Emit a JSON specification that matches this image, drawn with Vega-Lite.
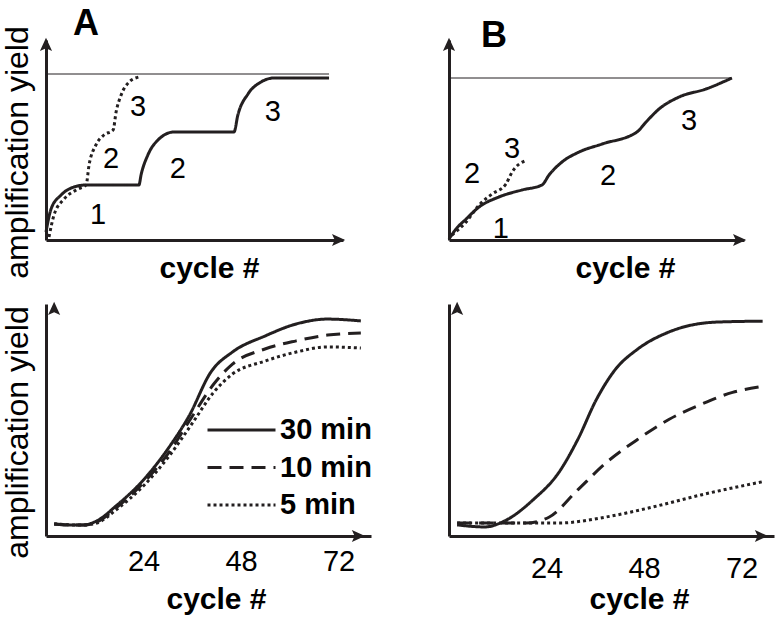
{
  "$schema": "https://vega.github.io/schema/vega-lite/v6.json",
  "background": "white",
  "padding": {"left": 0, "top": 5, "right": 5, "bottom": 5},
  "config": {
    "view": {"stroke": null},
    "font": "Liberation Sans",
    "axis": {"grid": false, "domainColor": "#231f20", "domainWidth": 3, "ticks": false, "tickSize": 0, "labels": false, "titleColor": "#000", "labelColor": "#000", "labelFontSize": 29, "labelFontWeight": "normal"},
    "title": {"color": "#000"}
  },
  "datasets": {
    "topA": [
      {"x": 0, "y": 4, "s": "solid"}, {"x": 1.7, "y": 15.5, "s": "solid"}, {"x": 5.1, "y": 22.5, "s": "solid"}, {"x": 9.4, "y": 26.5, "s": "solid"}, {"x": 13.5, "y": 27.5, "s": "solid"}, {"x": 31.3, "y": 27.5, "s": "solid"}, {"x": 32, "y": 32.5, "s": "solid"}, {"x": 34.3, "y": 42.5, "s": "solid"}, {"x": 37.7, "y": 50, "s": "solid"}, {"x": 43.1, "y": 54, "s": "solid"}, {"x": 63.3, "y": 54, "s": "solid"}, {"x": 64.6, "y": 62.5, "s": "solid"}, {"x": 68, "y": 73, "s": "solid"}, {"x": 72.4, "y": 79, "s": "solid"}, {"x": 76.8, "y": 81, "s": "solid"}, {"x": 95.3, "y": 81, "s": "solid"},
      {"x": 1, "y": 1.5, "s": "dotted"}, {"x": 2.7, "y": 12.5, "s": "dotted"}, {"x": 6.1, "y": 20.5, "s": "dotted"}, {"x": 10.8, "y": 25.5, "s": "dotted"}, {"x": 13.5, "y": 27.5, "s": "dotted"}, {"x": 14.5, "y": 37.5, "s": "dotted"}, {"x": 16.8, "y": 47.5, "s": "dotted"}, {"x": 19.5, "y": 52.5, "s": "dotted"}, {"x": 22.6, "y": 55, "s": "dotted"}, {"x": 23.6, "y": 64, "s": "dotted"}, {"x": 25.3, "y": 72.5, "s": "dotted"}, {"x": 28, "y": 79, "s": "dotted"}, {"x": 31.3, "y": 81.5, "s": "dotted"}
    ],
    "topB": [
      {"x": 0, "y": 0.5, "s": "solid"}, {"x": 2.4, "y": 5.5, "s": "solid"}, {"x": 5.8, "y": 10.5, "s": "solid"}, {"x": 10.2, "y": 16.5, "s": "solid"}, {"x": 16.9, "y": 21.5, "s": "solid"}, {"x": 24.7, "y": 25, "s": "solid"}, {"x": 31.5, "y": 27.5, "s": "solid"}, {"x": 33.9, "y": 32.5, "s": "solid"}, {"x": 38.3, "y": 39, "s": "solid"}, {"x": 44.1, "y": 44, "s": "solid"}, {"x": 51.9, "y": 48, "s": "solid"}, {"x": 63.7, "y": 54, "s": "solid"}, {"x": 66.8, "y": 59, "s": "solid"}, {"x": 71.2, "y": 65.5, "s": "solid"}, {"x": 78, "y": 71.5, "s": "solid"}, {"x": 87.1, "y": 75.5, "s": "solid"}, {"x": 95.9, "y": 81, "s": "solid"},
      {"x": 1, "y": 2.5, "s": "dotted"}, {"x": 5.8, "y": 9, "s": "dotted"}, {"x": 10.2, "y": 17.5, "s": "dotted"}, {"x": 14.6, "y": 23, "s": "dotted"}, {"x": 19.3, "y": 28, "s": "dotted"}, {"x": 21.4, "y": 34, "s": "dotted"}, {"x": 26.4, "y": 40, "s": "dotted"}
    ],
    "ceilA": [{"x": 0, "x2": 95.3, "y": 83}],
    "ceilB": [{"x": 0, "x2": 95.9, "y": 81}],
    "labA": [{"x": 17.5, "y": 12.5, "t": "1"}, {"x": 21.9, "y": 40.5, "t": "2"}, {"x": 31, "y": 66.5, "t": "3"}, {"x": 44.4, "y": 35.5, "t": "2"}, {"x": 76.4, "y": 64, "t": "3"}],
    "labB": [{"x": 17.6, "y": 5.5, "t": "1"}, {"x": 7.8, "y": 33, "t": "2"}, {"x": 21.4, "y": 45.5, "t": "3"}, {"x": 53.9, "y": 32, "t": "2"}, {"x": 81.4, "y": 59.5, "t": "3"}],
    "arrTop": [{"x": 100, "y": 0, "d": "right"}, {"x": 0, "y": 100, "d": "up"}],
    "arrBot": [{"x": 78, "y": 0, "d": "right"}, {"x": 2, "y": 100, "d": "up"}],
    "botA": [
      {"c": 2, "y": 5.2, "t": "30 min"}, {"c": 5.5, "y": 4.7, "t": "30 min"}, {"c": 9, "y": 4.7, "t": "30 min"}, {"c": 12.5, "y": 6.5, "t": "30 min"}, {"c": 17.2, "y": 12.9, "t": "30 min"}, {"c": 24.2, "y": 24.6, "t": "30 min"}, {"c": 30.5, "y": 38.8, "t": "30 min"}, {"c": 35.2, "y": 51.7, "t": "30 min"}, {"c": 40.6, "y": 70.7, "t": "30 min"}, {"c": 45.9, "y": 79.3, "t": "30 min"}, {"c": 53.9, "y": 86.2, "t": "30 min"}, {"c": 61.6, "y": 91.4, "t": "30 min"}, {"c": 69.3, "y": 93.5, "t": "30 min"}, {"c": 77.5, "y": 92.7, "t": "30 min"},
      {"c": 2, "y": 5.2, "t": "10 min"}, {"c": 9, "y": 4.7, "t": "10 min"}, {"c": 12.5, "y": 6, "t": "10 min"}, {"c": 17.2, "y": 12, "t": "10 min"}, {"c": 24.2, "y": 23.3, "t": "10 min"}, {"c": 30.5, "y": 36.6, "t": "10 min"}, {"c": 35.9, "y": 51.3, "t": "10 min"}, {"c": 41.3, "y": 65.5, "t": "10 min"}, {"c": 45.9, "y": 74.1, "t": "10 min"}, {"c": 53.9, "y": 80.6, "t": "10 min"}, {"c": 61.6, "y": 84.1, "t": "10 min"}, {"c": 69.3, "y": 86.6, "t": "10 min"}, {"c": 77.5, "y": 87.5, "t": "10 min"},
      {"c": 2, "y": 5.2, "t": "5 min"}, {"c": 9, "y": 4.7, "t": "5 min"}, {"c": 12.5, "y": 5.6, "t": "5 min"}, {"c": 17.2, "y": 11.2, "t": "5 min"}, {"c": 24.2, "y": 22, "t": "5 min"}, {"c": 30.5, "y": 34.9, "t": "5 min"}, {"c": 35.9, "y": 48.3, "t": "5 min"}, {"c": 41.3, "y": 62, "t": "5 min"}, {"c": 45.9, "y": 69.8, "t": "5 min"}, {"c": 53.9, "y": 75.4, "t": "5 min"}, {"c": 61.6, "y": 79.3, "t": "5 min"}, {"c": 69.3, "y": 81.5, "t": "5 min"}, {"c": 77.5, "y": 81, "t": "5 min"}
    ],
    "botB": [
      {"c": 2, "y": 4.8, "t": "30 min"}, {"c": 8.8, "y": 3.9, "t": "30 min"}, {"c": 13.7, "y": 6.5, "t": "30 min"}, {"c": 20.7, "y": 15.6, "t": "30 min"}, {"c": 27, "y": 27.3, "t": "30 min"}, {"c": 31.7, "y": 41.6, "t": "30 min"}, {"c": 36.3, "y": 58.9, "t": "30 min"}, {"c": 41, "y": 71.9, "t": "30 min"}, {"c": 46.4, "y": 80.5, "t": "30 min"}, {"c": 54.1, "y": 87.9, "t": "30 min"}, {"c": 65.8, "y": 92.2, "t": "30 min"}, {"c": 77.2, "y": 92.6, "t": "30 min"},
      {"c": 2, "y": 5.6, "t": "10 min"}, {"c": 19, "y": 5.6, "t": "10 min"}, {"c": 24.7, "y": 8.2, "t": "10 min"}, {"c": 31.7, "y": 19.9, "t": "10 min"}, {"c": 38.7, "y": 31.6, "t": "10 min"}, {"c": 46.4, "y": 41.6, "t": "10 min"}, {"c": 54.1, "y": 50.2, "t": "10 min"}, {"c": 62, "y": 56.7, "t": "10 min"}, {"c": 69.8, "y": 61.9, "t": "10 min"}, {"c": 77.2, "y": 64.5, "t": "10 min"},
      {"c": 2, "y": 5.6, "t": "5 min"}, {"c": 27, "y": 5.6, "t": "5 min"}, {"c": 38.7, "y": 8.2, "t": "5 min"}, {"c": 50.4, "y": 12.6, "t": "5 min"}, {"c": 62, "y": 17.7, "t": "5 min"}, {"c": 77.2, "y": 23.4, "t": "5 min"}
    ]
  },
  "concat": [
    {
      "width": 297, "height": 200,
      "title": {"text": "A", "anchor": "start", "frame": "group", "fontSize": 36, "fontWeight": "bold", "dx": 27, "offset": -53, "baseline": "bottom"},
      "layer": [
        {
          "data": {"name": "topA"},
          "mark": {"type": "line", "interpolate": "monotone", "color": "#231f20", "strokeWidth": 3},
          "encoding": {
            "x": {"field": "x", "type": "quantitative", "scale": {"domain": [0, 100]}, "axis": {"title": "cycle #", "titleFontSize": 30, "titleFontWeight": "bold", "titleX": 163, "titleY": 37, "titleBaseline": "alphabetic"}},
            "y": {"field": "y", "type": "quantitative", "scale": {"domain": [0, 100]}, "axis": {"title": "amplification yield", "titleFontSize": 32, "titleFontWeight": "normal", "titleX": -12, "titleY": 112, "titleBaseline": "bottom"}},
            "strokeDash": {"field": "s", "type": "nominal", "scale": {"domain": ["solid", "dotted"], "range": [[1, 0], [3, 3]]}, "legend": null}
          }
        },
        {
          "data": {"name": "ceilA"},
          "mark": {"type": "rule", "color": "#231f20", "strokeWidth": 1},
          "encoding": {"x": {"field": "x", "type": "quantitative"}, "x2": {"field": "x2"}, "y": {"field": "y", "type": "quantitative"}}
        },
        {
          "data": {"name": "labA"},
          "mark": {"type": "text", "fontSize": 29, "color": "#000", "baseline": "middle", "align": "center"},
          "encoding": {"x": {"field": "x", "type": "quantitative"}, "y": {"field": "y", "type": "quantitative"}, "text": {"field": "t"}}
        },
        {
          "data": {"name": "arrTop"},
          "mark": {"type": "point", "filled": true, "opacity": 1, "color": "#231f20", "size": 121},
          "encoding": {"x": {"field": "x", "type": "quantitative"}, "y": {"field": "y", "type": "quantitative"}, "shape": {"field": "d", "type": "nominal", "scale": {"domain": ["right", "up"], "range": ["M0.4,0L-2,-1.1L-1.5,0L-2,1.1Z", "M0,-0.4L-1.1,2L0,1.5L1.1,2Z"]}, "legend": null}}
        }
      ]
    },
    {
      "width": 295, "height": 200,
      "title": {"text": "B", "anchor": "start", "frame": "group", "fontSize": 36, "fontWeight": "bold", "dx": 32, "offset": -53, "baseline": "bottom"},
      "layer": [
        {
          "data": {"name": "topB"},
          "mark": {"type": "line", "interpolate": "monotone", "color": "#231f20", "strokeWidth": 3},
          "encoding": {
            "x": {"field": "x", "type": "quantitative", "scale": {"domain": [0, 100]}, "axis": {"title": "cycle #", "titleFontSize": 30, "titleFontWeight": "bold", "titleX": 176, "titleY": 37, "titleBaseline": "alphabetic"}},
            "y": {"field": "y", "type": "quantitative", "scale": {"domain": [0, 100]}, "axis": {"title": null}},
            "strokeDash": {"field": "s", "type": "nominal", "scale": {"domain": ["solid", "dotted"], "range": [[1, 0], [3, 3]]}, "legend": null}
          }
        },
        {
          "data": {"name": "ceilB"},
          "mark": {"type": "rule", "color": "#231f20", "strokeWidth": 1},
          "encoding": {"x": {"field": "x", "type": "quantitative"}, "x2": {"field": "x2"}, "y": {"field": "y", "type": "quantitative"}}
        },
        {
          "data": {"name": "labB"},
          "mark": {"type": "text", "fontSize": 29, "color": "#000", "baseline": "middle", "align": "center"},
          "encoding": {"x": {"field": "x", "type": "quantitative"}, "y": {"field": "y", "type": "quantitative"}, "text": {"field": "t"}}
        },
        {
          "data": {"name": "arrTop"},
          "mark": {"type": "point", "filled": true, "opacity": 1, "color": "#231f20", "size": 121},
          "encoding": {"x": {"field": "x", "type": "quantitative"}, "y": {"field": "y", "type": "quantitative"}, "shape": {"field": "d", "type": "nominal", "scale": {"domain": ["right", "up"], "range": ["M0.4,0L-2,-1.1L-1.5,0L-2,1.1Z", "M0,-0.4L-1.1,2L0,1.5L1.1,2Z"]}, "legend": null}}
        }
      ]
    },
    {
      "width": 325, "height": 232,
      "layer": [
        {
          "data": {"name": "botA"},
          "mark": {"type": "line", "interpolate": "monotone", "color": "#231f20", "strokeWidth": 3},
          "encoding": {
            "x": {"field": "c", "type": "quantitative", "scale": {"domain": [2, 78]}, "axis": {"title": "cycle #", "titleFontSize": 30, "titleFontWeight": "bold", "titleX": 170, "titleY": 72, "titleBaseline": "alphabetic", "labels": true, "values": [24, 48, 72], "labelPadding": 34, "labelBaseline": "alphabetic", "labelFlush": false}},
            "y": {"field": "y", "type": "quantitative", "scale": {"domain": [0, 100]}, "axis": {"title": "amplification yield", "titleFontSize": 32, "titleFontWeight": "normal", "titleX": -12, "titleY": 128, "titleBaseline": "bottom"}},
            "strokeDash": {"field": "t", "type": "nominal", "scale": {"domain": ["30 min", "10 min", "5 min"], "range": [[1, 0], [14, 8], [3, 3]]}, "legend": {"orient": "none", "legendX": 160, "legendY": 111, "title": null, "symbolType": "stroke", "symbolSize": 4624, "symbolStrokeColor": "#231f20", "symbolStrokeWidth": 3, "labelFontSize": 29, "labelFontWeight": "bold", "labelColor": "#000", "labelOffset": 3, "clipHeight": 30, "rowPadding": 7.5, "padding": 0}}
          }
        },
        {
          "data": {"name": "arrBot"},
          "mark": {"type": "point", "filled": true, "opacity": 1, "color": "#231f20", "size": 121},
          "encoding": {"x": {"field": "x", "type": "quantitative"}, "y": {"field": "y", "type": "quantitative"}, "shape": {"field": "d", "type": "nominal", "scale": {"domain": ["right", "up"], "range": ["M0.4,0L-2,-1.1L-1.5,0L-2,1.1Z", "M0,-0.4L-1.1,2L0,1.5L1.1,2Z"]}, "legend": null}}
        }
      ]
    },
    {
      "width": 325, "height": 232,
      "layer": [
        {
          "data": {"name": "botB"},
          "mark": {"type": "line", "interpolate": "monotone", "color": "#231f20", "strokeWidth": 3},
          "encoding": {
            "x": {"field": "c", "type": "quantitative", "scale": {"domain": [2, 78]}, "axis": {"title": "cycle #", "titleFontSize": 30, "titleFontWeight": "bold", "titleX": 190, "titleY": 72, "titleBaseline": "alphabetic", "labels": true, "values": [24, 48, 72], "labelPadding": 41, "labelBaseline": "alphabetic", "labelFlush": false}},
            "y": {"field": "y", "type": "quantitative", "scale": {"domain": [0, 100]}, "axis": {"title": null}},
            "strokeDash": {"field": "t", "type": "nominal", "scale": {"domain": ["30 min", "10 min", "5 min"], "range": [[1, 0], [14, 8], [3, 3]]}, "legend": null}
          }
        },
        {
          "data": {"name": "arrBot"},
          "mark": {"type": "point", "filled": true, "opacity": 1, "color": "#231f20", "size": 121},
          "encoding": {"x": {"field": "x", "type": "quantitative"}, "y": {"field": "y", "type": "quantitative"}, "shape": {"field": "d", "type": "nominal", "scale": {"domain": ["right", "up"], "range": ["M0.4,0L-2,-1.1L-1.5,0L-2,1.1Z", "M0,-0.4L-1.1,2L0,1.5L1.1,2Z"]}, "legend": null}}
        }
      ]
    }
  ],
  "columns": 2,
  "align": "each",
  "spacing": {"row": 18, "column": 70},
  "resolve": {"scale": {"strokeDash": "independent", "shape": "independent"}}
}
